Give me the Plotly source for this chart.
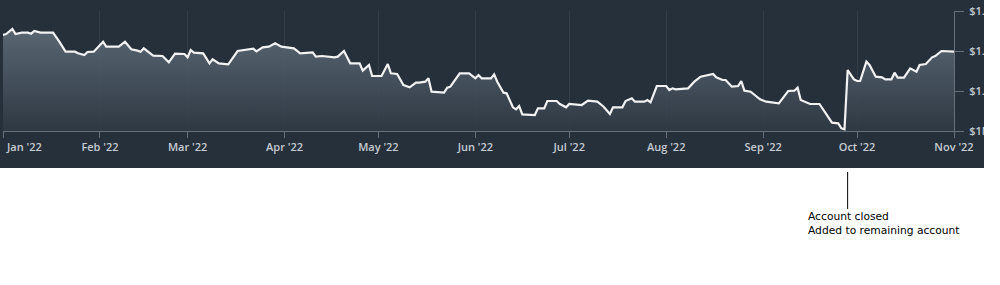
import plotly.graph_objects as go

# ---- data ----
dates = [
    "2022-01-01", "2022-01-02", "2022-01-04", "2022-01-05", "2022-01-07", "2022-01-09", "2022-01-10",
    "2022-01-11", "2022-01-13", "2022-01-17", "2022-01-19", "2022-01-21", "2022-01-24", "2022-01-25",
    "2022-01-27", "2022-01-28", "2022-01-30", "2022-01-31", "2022-02-02", "2022-02-03", "2022-02-07",
    "2022-02-09", "2022-02-11", "2022-02-13", "2022-02-14", "2022-02-15", "2022-02-18", "2022-02-21",
    "2022-02-23", "2022-02-25", "2022-02-28", "2022-03-01", "2022-03-02", "2022-03-03", "2022-03-06",
    "2022-03-08", "2022-03-09", "2022-03-11", "2022-03-14", "2022-03-17", "2022-03-20", "2022-03-22",
    "2022-03-23", "2022-03-25", "2022-03-27", "2022-03-29", "2022-03-31", "2022-04-04", "2022-04-06",
    "2022-04-10", "2022-04-11", "2022-04-13", "2022-04-17", "2022-04-18", "2022-04-20", "2022-04-22",
    "2022-04-25", "2022-04-26", "2022-04-28", "2022-04-29", "2022-05-02", "2022-05-04", "2022-05-05",
    "2022-05-07", "2022-05-09", "2022-05-11", "2022-05-13", "2022-05-14", "2022-05-16", "2022-05-17",
    "2022-05-18", "2022-05-22", "2022-05-23", "2022-05-24", "2022-05-27", "2022-05-30", "2022-06-01",
    "2022-06-02", "2022-06-03", "2022-06-06", "2022-06-07", "2022-06-08", "2022-06-10", "2022-06-11",
    "2022-06-13", "2022-06-14", "2022-06-15", "2022-06-16", "2022-06-20", "2022-06-21", "2022-06-23",
    "2022-06-24", "2022-06-27", "2022-06-28", "2022-06-30", "2022-07-01", "2022-07-05", "2022-07-07",
    "2022-07-10", "2022-07-12", "2022-07-14", "2022-07-15", "2022-07-18", "2022-07-19", "2022-07-21",
    "2022-07-22", "2022-07-25", "2022-07-26", "2022-07-27", "2022-07-29", "2022-08-01", "2022-08-02",
    "2022-08-03", "2022-08-04", "2022-08-08", "2022-08-10", "2022-08-12", "2022-08-16", "2022-08-17",
    "2022-08-19", "2022-08-20", "2022-08-22", "2022-08-24", "2022-08-25", "2022-08-26", "2022-08-28",
    "2022-08-31", "2022-09-02", "2022-09-06", "2022-09-09", "2022-09-11", "2022-09-12", "2022-09-13",
    "2022-09-16", "2022-09-19", "2022-09-22", "2022-09-23", "2022-09-25", "2022-09-26", "2022-09-27",
    "2022-09-28", "2022-09-30", "2022-10-01", "2022-10-02", "2022-10-04", "2022-10-05", "2022-10-07",
    "2022-10-09", "2022-10-10", "2022-10-12", "2022-10-13", "2022-10-14", "2022-10-16", "2022-10-18",
    "2022-10-20", "2022-10-21", "2022-10-23", "2022-10-25", "2022-10-26", "2022-10-28", "2022-10-30",
    "2022-11-01",
]

# account balance, thousands of USD
balance_k = [
    1240.0, 1242.5, 1255.0, 1242.5, 1245.8, 1245.8, 1243.3,
    1250.0, 1245.8, 1245.8, 1223.3, 1198.3, 1198.3, 1194.2,
    1190.0, 1197.5, 1198.3, 1206.7, 1223.3, 1210.8, 1210.8,
    1223.3, 1204.2, 1200.8, 1198.3, 1206.7, 1188.3, 1187.5,
    1171.7, 1193.3, 1192.5, 1184.2, 1202.5, 1195.8, 1194.2,
    1169.2, 1179.2, 1169.2, 1166.7, 1200.0, 1202.5, 1205.8,
    1199.2, 1209.2, 1210.8, 1219.2, 1210.8, 1206.7, 1194.2,
    1196.7, 1185.8, 1187.5, 1184.2, 1185.8, 1200.0, 1169.2,
    1169.2, 1150.8, 1165.0, 1137.5, 1137.5, 1167.5, 1144.2,
    1142.5, 1115.0, 1109.2, 1120.8, 1120.8, 1123.3, 1131.7,
    1098.3, 1095.8, 1108.3, 1110.8, 1144.2, 1144.2, 1131.7,
    1140.0, 1131.7, 1131.7, 1141.7, 1123.3, 1095.8, 1094.2,
    1059.2, 1054.2, 1062.5, 1041.7, 1040.0, 1056.7, 1056.7,
    1075.0, 1075.0, 1067.5, 1059.2, 1067.5, 1065.0, 1075.8,
    1073.3, 1060.8, 1042.5, 1059.2, 1059.2, 1075.0, 1081.7,
    1073.3, 1073.3, 1077.5, 1071.7, 1112.5, 1112.5, 1102.5,
    1106.7, 1104.2, 1106.7, 1123.3, 1135.8, 1142.5, 1134.2,
    1127.5, 1127.5, 1110.8, 1112.5, 1125.0, 1100.8, 1098.3,
    1079.2, 1073.3, 1069.2, 1100.0, 1100.8, 1108.3, 1077.5,
    1067.5, 1067.5, 1031.7, 1020.8, 1019.2, 1006.7, 1004.2,
    1152.5, 1129.2, 1125.0, 1125.0, 1173.3, 1165.0, 1135.8,
    1134.2, 1129.2, 1129.2, 1145.8, 1133.3, 1133.3, 1156.7,
    1148.3, 1165.0, 1167.5, 1184.2, 1187.5, 1200.0, 1200.0,
    1198.3,
]

month_ticks = ["2022-01-01", "2022-02-01", "2022-03-01", "2022-04-01", "2022-05-01", "2022-06-01",
               "2022-07-01", "2022-08-01", "2022-09-01", "2022-10-01", "2022-11-01"]
month_labels = ["", "Feb '22", "Mar '22", "Apr '22", "May '22", "Jun '22",
                "Jul '22", "Aug '22", "Sep '22", "Oct '22", "Nov '22"]
first_month_label = "Jan '22"

y_ticks = [1000, 1100, 1200, 1300]
y_labels = ["$1M", "$1.1M", "$1.2M", "$1.3M"]

event_date = "2022-09-28"
event_text = "Account closed<br>Added to remaining account"

# ---- styling ----
W, H = 1000, 285
PL, PR, PT, PB = 3, 954, 11, 131     # plot area in pixels
BG = "#26303b"
TICK_COL = "#c5cbd1"
AXIS_COL = "#66707a"


def px_x(p):
    return (p - PL) / (PR - PL)


def px_y(p):
    return (PB - p) / (PB - PT)


fig = go.Figure()
fig.add_trace(go.Scatter(
    x=dates, y=balance_k, mode="lines",
    line=dict(color="#f2f2f2", width=2.2),
    fill="tozeroy",
    fillgradient=dict(
        type="vertical",
        colorscale=[[0, "rgba(47,57,68,0.88)"], [1, "rgba(97,111,123,0.88)"]],
        start=1000, stop=1260,
    ),
    hoverinfo="skip",
    showlegend=False,
))

tick_font = dict(family="Open Sans", size=11, color=TICK_COL, weight=600)

fig.update_layout(
    width=W, height=H,
    margin=dict(l=PL, r=W - PR, t=PT, b=H - PB, autoexpand=False),
    paper_bgcolor="white",
    plot_bgcolor="rgba(0,0,0,0)",
    xaxis=dict(
        type="date", range=["2022-01-01", "2022-11-01"],
        tickmode="array", tickvals=month_ticks, ticktext=month_labels,
        ticks="outside", ticklen=6, tickcolor=AXIS_COL, tickwidth=1,
        showline=True, linecolor=AXIS_COL, linewidth=1,
        showgrid=True, gridcolor="rgba(255,255,255,0.07)", gridwidth=1,
        zeroline=False, tickfont=tick_font, automargin=False,
    ),
    yaxis=dict(
        side="right", range=[1000, 1300],
        tickmode="array", tickvals=y_ticks, ticktext=y_labels,
        ticks="outside", ticklen=9, tickcolor=AXIS_COL, tickwidth=1,
        ticklabelstandoff=3, automargin=False,
        showline=True, linecolor=AXIS_COL, linewidth=1,
        showgrid=False, zeroline=False, tickfont=tick_font,
    ),
    shapes=[
        # dark panel
        dict(type="rect", xref="paper", yref="paper", layer="below",
             x0=px_x(0), x1=px_x(984), y0=px_y(168), y1=px_y(0),
             fillcolor=BG, line=dict(width=0)),
        # clip labels beyond the panel
        dict(type="rect", xref="paper", yref="paper", layer="above",
             x0=px_x(984), x1=px_x(1005), y0=px_y(285), y1=px_y(-5),
             fillcolor="white", line=dict(width=0)),
        # event pointer line
        dict(type="line", xref="x", yref="paper", layer="above",
             x0=event_date, x1=event_date, y0=px_y(172), y1=px_y(209),
             line=dict(color="black", width=1)),
    ],
    annotations=[
        dict(text=first_month_label, xref="paper", yref="paper",
             x=px_x(4), y=px_y(146), xanchor="left", yanchor="middle",
             showarrow=False, font=tick_font),
        dict(text=event_text, xref="paper", yref="paper",
             x=px_x(806), y=px_y(208), xanchor="left", yanchor="top",
             align="left", showarrow=False,
             font=dict(family="DejaVu Sans", size=10.7, color="black")),
    ],
)

fig.write_html("out.html")
